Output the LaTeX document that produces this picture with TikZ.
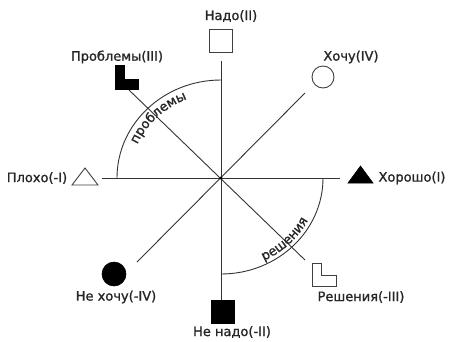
\documentclass[tikz,border=0pt]{standalone}
\usepackage{fontspec}
\setmainfont{DejaVu Sans}
\newfontfamily\lblface{DejaVu Sans}[FakeBold=1.2]
\usetikzlibrary{decorations.text,calc}
\newcommand{\lblfont}{\lblface\fontsize{13}{15}\selectfont}
\begin{document}
\begin{tikzpicture}[x=1pt,y=-1pt,
  axis/.style={line width=0.9pt, draw=black!80},
  lbl/.style={font=\lblfont, inner sep=0pt, text=black!85},
  wsym/.style={draw=black!75, line width=0.9pt, fill=white},
  bsym/.style={fill=black, draw=black, line width=0.6pt}]
\useasboundingbox (0,0) rectangle (450,341);
\coordinate (C) at (221,178);
\coordinate (N) at (221,61);
\coordinate (S) at (221,300);
\coordinate (W) at (102,178);
\coordinate (E) at (340,178);
\coordinate (NE) at (305,93);
\coordinate (SW) at (137,262);
\coordinate (NW) at (129,90);
\coordinate (SE) at (305,260);
\draw[axis] (N) -- (S);
\draw[axis] (W) -- (E);
\draw[axis] (NE) -- (SW);
\draw[axis] (NW) -- (SE);
\fill[black] (C) circle (1.6);
% arcs
\draw[axis] ($(C)+(-104,0)$) arc[start angle=180, end angle=270, x radius=104, y radius=98];
\draw[axis] ($(C)+(0,96)$) arc[start angle=90, end angle=0, x radius=102, y radius=96];
% arc texts
\path[decorate, decoration={text along path, text align=center, text={|\lblfont\color{black!85}|проблемы}}]
  ($(C)+(-91,0)$) arc[start angle=180, end angle=270, x radius=91, y radius=85];
\path[decorate, decoration={text along path, text align=center, text={|\lblfont\color{black!85}|решения}}]
  ($(C)+(0,92)$) arc[start angle=90, end angle=0, x radius=98, y radius=92];
% symbols
\node[wsym, minimum size=23pt, inner sep=0pt] (nadoS) at (221,41) {};
\node[wsym, circle, minimum size=22pt, inner sep=0pt] (hochuS) at (323,77) {};
\node[bsym, circle, minimum size=24pt, inner sep=0pt] (nehochuS) at (114,274) {};
\node[bsym, minimum size=23pt, inner sep=0pt] (nenadoS) at (222.5,311.5) {};
\draw[bsym] (115,65) -- (124,65) -- (124,79) -- (138,79) -- (138,89) -- (115,89) -- cycle;
\draw[wsym] (312,263) -- (321,263) -- (321,275) -- (336,275) -- (336,286) -- (312,286) -- cycle;
\draw[wsym, line join=miter] (72,185) -- (98,185) -- (85,168) -- cycle;
\draw[bsym] (348,183) -- (373,183) -- (360.5,166) -- cycle;
% labels
\node[lbl] (nado) at (231,16) {Надо(II)};
\node[lbl] (hochu) at (351,57) {Хочу(IV)};
\node[lbl] (probl) at (117,57) {Проблемы(III)};
\node[lbl] (ploho) at (37,178) {Плохо(-I)};
\node[lbl] (horosho) at (412,178) {Хорошо(I)};
\node[lbl] (nehochu) at (116,297) {Не хочу(-IV)};
\node[lbl] (nenado) at (232,332) {Не надо(-II)};
\node[lbl] (resh) at (361,297) {Решения(-III)};
\end{tikzpicture}
\end{document}
